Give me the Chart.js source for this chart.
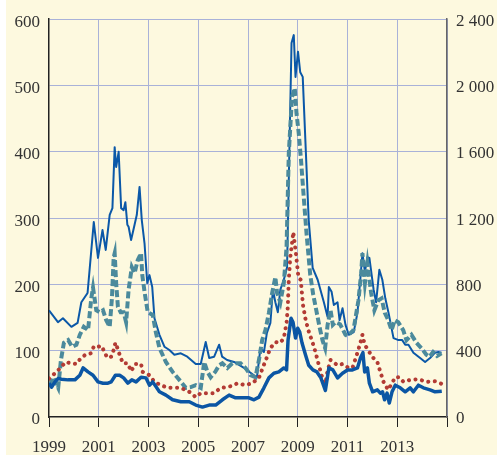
<!DOCTYPE html>
<html>
<head>
<meta charset="utf-8">
<script src="https://cdn.jsdelivr.net/npm/chart.js@4/dist/chart.umd.min.js"></script>
<style>
  html, body { margin: 0; padding: 0; background: #ffffff; }
  canvas { display: block; }
</style>
</head>
<body>
<canvas id="spreadChart" width="497" height="455"></canvas>
<script>
// x tick labels (years) and right axis labels
const xTickLabels = ['1999', '2001', '2003', '2005', '2007', '2009', '2011', '2013'];
const rightTickLabels = ['0', '400', '800', '1 200', '1 600', '2 000', '2 400'];

// thick solid blue, left axis
const thickYears = [1999.0, 1999.1, 1999.24, 1999.37, 1999.5, 1999.77, 2000.04, 2000.24, 2000.37, 2000.57, 2000.77, 2000.97,
  2001.17, 2001.37, 2001.5, 2001.67, 2001.84, 2002.0, 2002.17, 2002.33, 2002.5, 2002.7, 2002.9, 2003.04, 2003.17, 2003.44,
  2003.7, 2003.97, 2004.3, 2004.64, 2004.9, 2005.17, 2005.44, 2005.7, 2005.97, 2006.24, 2006.5, 2006.9, 2007.04, 2007.24,
  2007.44, 2007.64, 2007.84, 2008.04, 2008.24, 2008.44, 2008.55, 2008.61, 2008.73, 2008.81, 2008.91, 2009.0, 2009.08,
  2009.17, 2009.31, 2009.44, 2009.61, 2009.77, 2009.93, 2010.11, 2010.25, 2010.41, 2010.6, 2010.8, 2011.0, 2011.2, 2011.4,
  2011.52, 2011.62, 2011.69, 2011.8, 2011.88, 2012.01, 2012.2, 2012.32, 2012.41, 2012.49, 2012.59, 2012.68, 2012.79,
  2012.92, 2013.12, 2013.32, 2013.52, 2013.65, 2013.85, 2014.05, 2014.32, 2014.52, 2014.79];
const thickValues = [51, 45, 53, 58, 57, 56, 56, 63, 74, 68, 63, 53,
  51, 51, 53, 63, 63, 59, 51, 56, 53, 60, 59, 48, 53, 38,
  33, 26, 23, 23, 18, 15, 18, 18, 26, 33, 29, 29, 29, 26,
  30, 44, 59, 66, 68, 74, 71, 116, 149, 143, 119, 134, 128,
  112, 94, 78, 71, 68, 59, 40, 74, 71, 59, 66, 71, 71, 74,
  89, 97, 68, 74, 51, 38, 41, 36, 38, 26, 36, 21, 38,
  48, 44, 38, 44, 38, 48, 44, 41, 38, 39];

// red dotted, left axis
const dotYears = [1999.0, 1999.3, 1999.48, 1999.67, 1999.88, 2000.1, 2000.28, 2000.47, 2000.68, 2000.81, 2000.97, 2001.13,
  2001.24, 2001.37, 2001.5, 2001.6, 2001.67, 2001.75, 2001.84, 2001.97, 2002.17, 2002.3, 2002.47, 2002.7, 2002.77, 2003.04,
  2003.24, 2003.5, 2003.77, 2004.04, 2004.3, 2004.64, 2004.9, 2005.1, 2005.37, 2005.64, 2005.9, 2006.17, 2006.44, 2006.57,
  2006.9, 2007.17, 2007.44, 2007.6, 2007.77, 2007.9, 2008.1, 2008.3, 2008.44, 2008.55, 2008.6, 2008.64, 2008.7, 2008.77,
  2008.82, 2008.92, 2009.03, 2009.12, 2009.21, 2009.32, 2009.45, 2009.59, 2009.72, 2009.85, 2009.99, 2010.09, 2010.19,
  2010.32, 2010.6, 2010.8, 2011.0, 2011.2, 2011.4, 2011.52, 2011.6, 2011.69, 2011.83, 2011.99, 2012.2, 2012.32, 2012.45,
  2012.63, 2012.79, 2012.92, 2013.08, 2013.25, 2013.52, 2013.85, 2014.19, 2014.52, 2014.79];
const dotValues = [58, 68, 75, 83, 81, 80, 89, 94, 96, 107, 106, 107,
  96, 89, 91, 101, 112, 104, 94, 81, 81, 69, 80, 80, 68, 63,
  53, 48, 44, 44, 44, 38, 30, 36, 36, 36, 44, 45, 48, 51,
  48, 51, 59, 75, 91, 104, 113, 112, 119, 142, 166, 207, 241, 262,
  279, 249, 210, 207, 169, 146, 128, 113, 97, 78, 59, 45, 68,
  86, 78, 80, 75, 74, 97, 112, 124, 109, 101, 91, 83, 68, 53,
  41, 51, 60, 60, 53, 56, 57, 53, 54, 50];

// teal dashed, right axis
const dashYears = [1999.04, 1999.17, 1999.37, 1999.48, 1999.6, 1999.77, 1999.93, 2000.1, 2000.24, 2000.4, 2000.57, 2000.7,
  2000.77, 2000.9, 2001.04, 2001.17, 2001.3, 2001.44, 2001.53, 2001.6, 2001.64, 2001.7, 2001.77, 2001.88, 2002.0, 2002.1,
  2002.2, 2002.33, 2002.44, 2002.57, 2002.7, 2002.75, 2002.84, 2002.97, 2003.17, 2003.3, 2003.44, 2003.7, 2003.97, 2004.24,
  2004.5, 2004.7, 2004.9, 2005.1, 2005.24, 2005.37, 2005.5, 2005.68, 2005.84, 2005.97, 2006.17, 2006.37, 2006.7, 2006.9,
  2007.1, 2007.3, 2007.44, 2007.57, 2007.7, 2007.84, 2007.97, 2008.1, 2008.17, 2008.3, 2008.44, 2008.55, 2008.64, 2008.77,
  2008.88, 2008.95, 2009.04, 2009.13, 2009.24, 2009.35, 2009.5, 2009.62, 2009.75, 2009.88, 2010.0, 2010.1, 2010.2, 2010.32,
  2010.41, 2010.52, 2010.7, 2010.92, 2011.0, 2011.24, 2011.44, 2011.55, 2011.6, 2011.7, 2011.8, 2011.95, 2012.08, 2012.24,
  2012.37, 2012.5, 2012.64, 2012.77, 2012.9, 2013.04, 2013.24, 2013.37, 2013.57, 2013.77, 2013.97, 2014.17, 2014.3, 2014.44,
  2014.6, 2014.78];
const dashValues = [192, 240, 176, 344, 448, 464, 424, 436, 496, 544, 524, 716,
  780, 644, 632, 644, 584, 544, 716, 964, 988, 808, 664, 632, 632, 572,
  768, 904, 868, 948, 988, 856, 756, 632, 616, 508, 416, 332, 272, 224,
  176, 180, 192, 176, 332, 272, 240, 272, 312, 324, 296, 324, 324, 296,
  252, 240, 344, 464, 524, 628, 748, 844, 748, 692, 808, 1024, 1592, 1932,
  1984, 1832, 1712, 1552, 1328, 1112, 860, 740, 640, 540, 460, 416, 556, 644,
  556, 572, 560, 496, 488, 524, 704, 868, 988, 808, 928, 748, 644, 704,
  716, 628, 584, 524, 584, 572, 524, 464, 496, 448, 416, 376, 364, 392,
  368, 384];

// thin solid blue, right axis
const thinYears = [1999.0, 1999.36, 1999.56, 1999.9, 2000.15, 2000.3, 2000.55, 2000.8, 2000.97, 2001.15, 2001.28, 2001.44,
  2001.55, 2001.64, 2001.7, 2001.8, 2001.9, 2002.0, 2002.07, 2002.15, 2002.2, 2002.3, 2002.44, 2002.53, 2002.64, 2002.73,
  2002.84, 2002.95, 2003.04, 2003.15, 2003.24, 2003.44, 2003.64, 2003.84, 2004.04, 2004.3, 2004.56, 2004.9, 2005.1, 2005.3,
  2005.44, 2005.64, 2005.84, 2005.96, 2006.16, 2006.44, 2006.84, 2007.24, 2007.36, 2007.5, 2007.64, 2007.76, 2007.9, 2008.0,
  2008.1, 2008.2, 2008.3, 2008.44, 2008.57, 2008.75, 2008.84, 2008.91, 2009.01, 2009.1, 2009.2, 2009.44, 2009.6, 2009.8,
  2010.05, 2010.2, 2010.25, 2010.36, 2010.45, 2010.6, 2010.68, 2010.8, 2010.92, 2011.05, 2011.25, 2011.4, 2011.52, 2011.6,
  2011.7, 2011.8, 2011.88, 2012.05, 2012.15, 2012.28, 2012.4, 2012.52, 2012.65, 2012.85, 2013.05, 2013.2, 2013.32, 2013.45,
  2013.65, 2013.92, 2014.12, 2014.32, 2014.52, 2014.65, 2014.78];
const thinValues = [644, 572, 596, 544, 568, 692, 748, 1176, 960, 1128, 1008, 1220,
  1260, 1628, 1508, 1600, 1260, 1248, 1296, 1160, 1148, 1068, 1160, 1220, 1388, 1188,
  1048, 808, 856, 784, 596, 496, 424, 404, 376, 384, 364, 320, 320, 452,
  356, 364, 436, 364, 344, 332, 296, 252, 240, 416, 392, 508, 568, 768,
  692, 632, 768, 828, 904, 2256, 2304, 2052, 2204, 2080, 2052, 1188, 900, 828,
  692, 604, 784, 756, 676, 692, 584, 656, 556, 496, 512, 628, 840, 988,
  876, 964, 960, 768, 692, 888, 828, 716, 628, 476, 464, 464, 436, 436,
  388, 356, 332, 356, 388, 392, 388];

const bgColor = '#fdf9df';
const gridColor = '#a9b2d8';
const clear = 'rgba(0,0,0,0)';
const tickFont = { family: "'Liberation Serif', 'DejaVu Serif', serif", size: 17 };

function toPoints(xs, ys) {
  return xs.map((x, i) => ({ x: x, y: ys[i] }));
}

// cream panel, leaving a thin white strip on the left edge
const background = {
  id: 'background',
  beforeDraw: function(chart) {
    const c = chart.ctx;
    c.save();
    c.fillStyle = bgColor;
    c.fillRect(6, 0, chart.width - 6, chart.height);
    c.restore();
  }
};

const ctx = document.getElementById('spreadChart').getContext('2d');
new Chart(ctx, {
  type: 'line',
  data: {
    datasets: [{
      data: toPoints(thickYears, thickValues),
      yAxisID: 'y',
      borderColor: '#0b56a4',
      borderWidth: 3.5,
      borderJoinStyle: 'round'
    }, {
      data: toPoints(dotYears, dotValues),
      yAxisID: 'y',
      borderColor: '#b33b34',
      borderWidth: 4,
      borderCapStyle: 'round',
      borderDash: [0.1, 6.5]
    }, {
      data: toPoints(dashYears, dashValues),
      yAxisID: 'y2',
      borderColor: '#4b8a9c',
      borderWidth: 4,
      borderDash: [7, 3]
    }, {
      data: toPoints(thinYears, thinValues),
      yAxisID: 'y2',
      borderColor: '#0b58a8',
      borderWidth: 2,
      borderJoinStyle: 'round'
    }]
  },
  plugins: [background],
  options: {
    responsive: false,
    animation: false,
    layout: { padding: { top: 19 } },
    elements: { point: { radius: 0 }, line: { tension: 0, fill: false } },
    plugins: { legend: { display: false }, tooltip: { enabled: false } },
    scales: {
      x: {
        type: 'linear',
        min: 1999,
        max: 2015,
        afterFit: function(scale) { scale.height = 38; },
        afterBuildTicks: function(scale) {
          const t = [];
          for (let v = 1999; v <= 2015; v += 2) t.push({ value: v });
          scale.ticks = t;
        },
        ticks: {
          autoSkip: false,
          maxRotation: 0,
          padding: 10,
          color: '#333',
          font: tickFont,
          callback: function(v) { return xTickLabels.includes(String(v)) ? String(v) : ''; }
        },
        grid: {
          color: function(c) { return c.index === 0 ? clear : gridColor; },
          tickColor: '#222',
          tickLength: 10,
          lineWidth: 1
        },
        border: { color: '#222', width: 1.5 }
      },
      y: {
        position: 'left',
        min: 0,
        max: 600,
        afterFit: function(scale) { scale.width = 49; },
        ticks: { stepSize: 100, padding: 9, labelOffset: 3, color: '#333', font: tickFont },
        grid: {
          color: function(c) { return c.tick && c.tick.value === 0 ? clear : gridColor; },
          drawTicks: false
        },
        border: { color: '#222', width: 1.5 }
      },
      y2: {
        position: 'right',
        min: 0,
        max: 2400,
        afterFit: function(scale) { scale.width = 50; },
        ticks: {
          stepSize: 400,
          padding: 9,
          labelOffset: 2,
          color: '#333',
          font: tickFont,
          callback: function(v, i) { return rightTickLabels[i]; }
        },
        grid: { drawOnChartArea: false, drawTicks: false },
        border: { color: '#666', width: 1.5 }
      }
    }
  }
});
</script>
</body>
</html>
